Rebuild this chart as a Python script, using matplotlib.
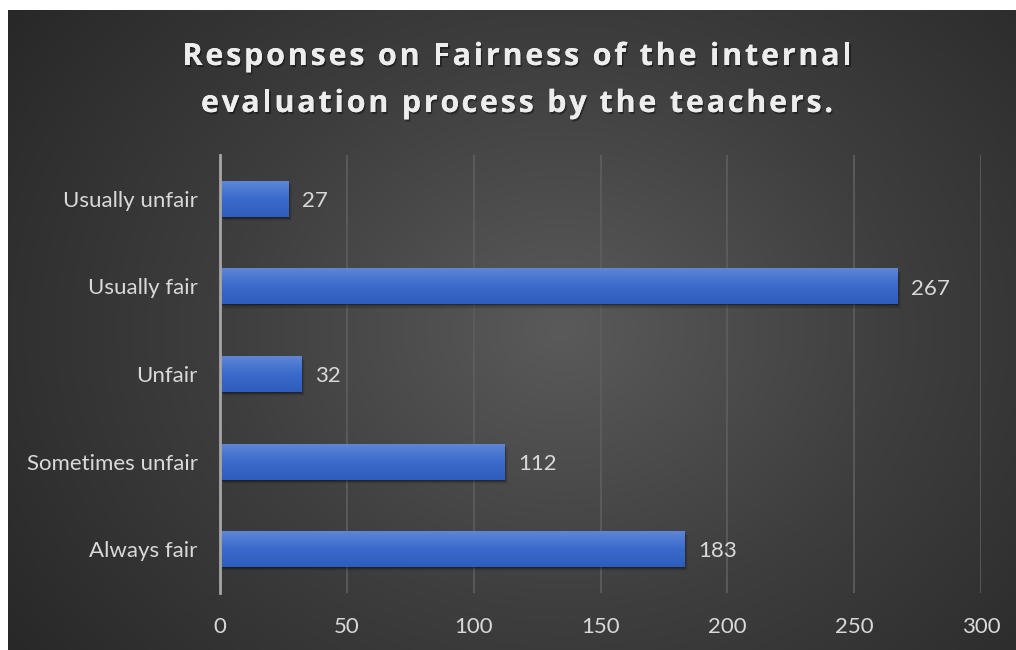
import numpy as np
import matplotlib
matplotlib.use('Agg')
import matplotlib.pyplot as plt
import matplotlib.patheffects as pe
from matplotlib.colors import LinearSegmentedColormap
from matplotlib.font_manager import FontProperties

categories = ['Always fair', 'Sometimes unfair', 'Unfair', 'Usually fair', 'Usually unfair']
responses = [183, 112, 32, 267, 27]
x_ticks = [0, 50, 100, 150, 200, 250, 300]
title_lines = ['Responses on Fairness of the internal',
               'evaluation process by the teachers.']

W, H = 1016, 650
fig = plt.figure(figsize=(W / 100, H / 100), dpi=100, facecolor='white')

# dark panel with a soft radial gradient
bg = fig.add_axes([8 / W, 0, 1 - 8 / W, 1 - 10 / H])
bg.set_axis_off()
yy, xx = np.mgrid[0:1:400j, 0:1:600j]
r = np.sqrt(((xx - 0.55) * 1.3) ** 2 + (yy - 0.5) ** 2)
r = np.clip(r / r.max(), 0, 1)
bg_cmap = LinearSegmentedColormap.from_list('bg', ['#5a5a5a', '#3e3e3e', '#282828'])
bg.imshow(r, cmap=bg_cmap, aspect='auto', extent=(0, 1, 0, 1), interpolation='bilinear')
bg.set_xlim(0, 1)
bg.set_ylim(0, 1)

ax = fig.add_axes([220 / W, 57 / H, (981 - 220) / W, (593 - 155) / H])
ax.patch.set_alpha(0)
ypos = np.arange(len(categories))
bar_h = 0.41

bars = ax.barh(ypos, responses, height=bar_h, color='none', edgecolor='none', zorder=3)
grad = np.linspace(0, 1, 64).reshape(-1, 1)
bar_cmap = LinearSegmentedColormap.from_list('bar', ['#5d86d6', '#3a6acb', '#2d5ebd'])
for b, v in zip(bars, responses):
    x0, y0 = b.get_x(), b.get_y()
    w, h = b.get_width(), b.get_height()
    # shadow
    for k, a in zip(range(1, 5), [0.22, 0.16, 0.1, 0.05]):
        ax.add_patch(plt.Rectangle((x0 + 0.35 * k, y0 - 0.012 * k), w, h,
                                   facecolor='black', edgecolor='none', alpha=a, zorder=2))
    im = ax.imshow(grad, cmap=bar_cmap, aspect='auto', extent=(x0, x0 + w, y0, y0 + h),
                   origin='upper', zorder=3, interpolation='bilinear')
    im.set_clip_path(b)
    ax.text(v + 5.5, y0 + h / 2 - 0.025, str(v), va='center', ha='left', color='#d9d9d9',
            fontsize=16, family='Lato', zorder=4)

ax.set_xlim(0, 300)
ax.set_ylim(-0.5, len(categories) - 0.5)
ax.set_xticks(x_ticks)
ax.set_yticks(ypos)
ax.set_yticklabels(categories)
ax.grid(axis='x', color='#5e5e5e', linewidth=1.2, zorder=1)
ax.set_axisbelow(True)
for s in ['top', 'right', 'bottom']:
    ax.spines[s].set_visible(False)
ax.spines['left'].set_color('#a6a6a6')
ax.spines['left'].set_linewidth(2)
ax.spines['left'].set_zorder(5)
ax.tick_params(axis='both', length=0, colors='#d9d9d9', labelsize=16)
ax.tick_params(axis='y', pad=16)
ax.tick_params(axis='x', pad=17)
for lab in ax.get_xticklabels() + ax.get_yticklabels():
    lab.set_family('Lato')

# title with letter spacing, placed char by char
shadow = [pe.withSimplePatchShadow(offset=(1, -1.5), shadow_rgbFace='black', alpha=0.4), pe.Normal()]
tfont = FontProperties(family='Open Sans', weight='bold', size=22)
renderer = fig.canvas.get_renderer()


def text_w(s):
    bar_w = renderer.get_text_width_height_descent('|', tfont, ismath=False)[0]
    return renderer.get_text_width_height_descent(s + '|', tfont, ismath=False)[0] - bar_w


spacing = 2.8  # px between letters
for line, yb in zip(title_lines, [65, 112]):
    total = text_w(line) + spacing * (len(line) - 1)
    start = 517 - total / 2
    for i, ch in enumerate(line):
        if ch == ' ':
            continue
        x = start + text_w(line[:i]) + spacing * i
        fig.text(x / W, 1 - yb / H, ch, ha='left', va='baseline', color='#ededed',
                 fontproperties=tfont, path_effects=shadow)

fig.savefig('out.png', dpi=100, facecolor='white')
